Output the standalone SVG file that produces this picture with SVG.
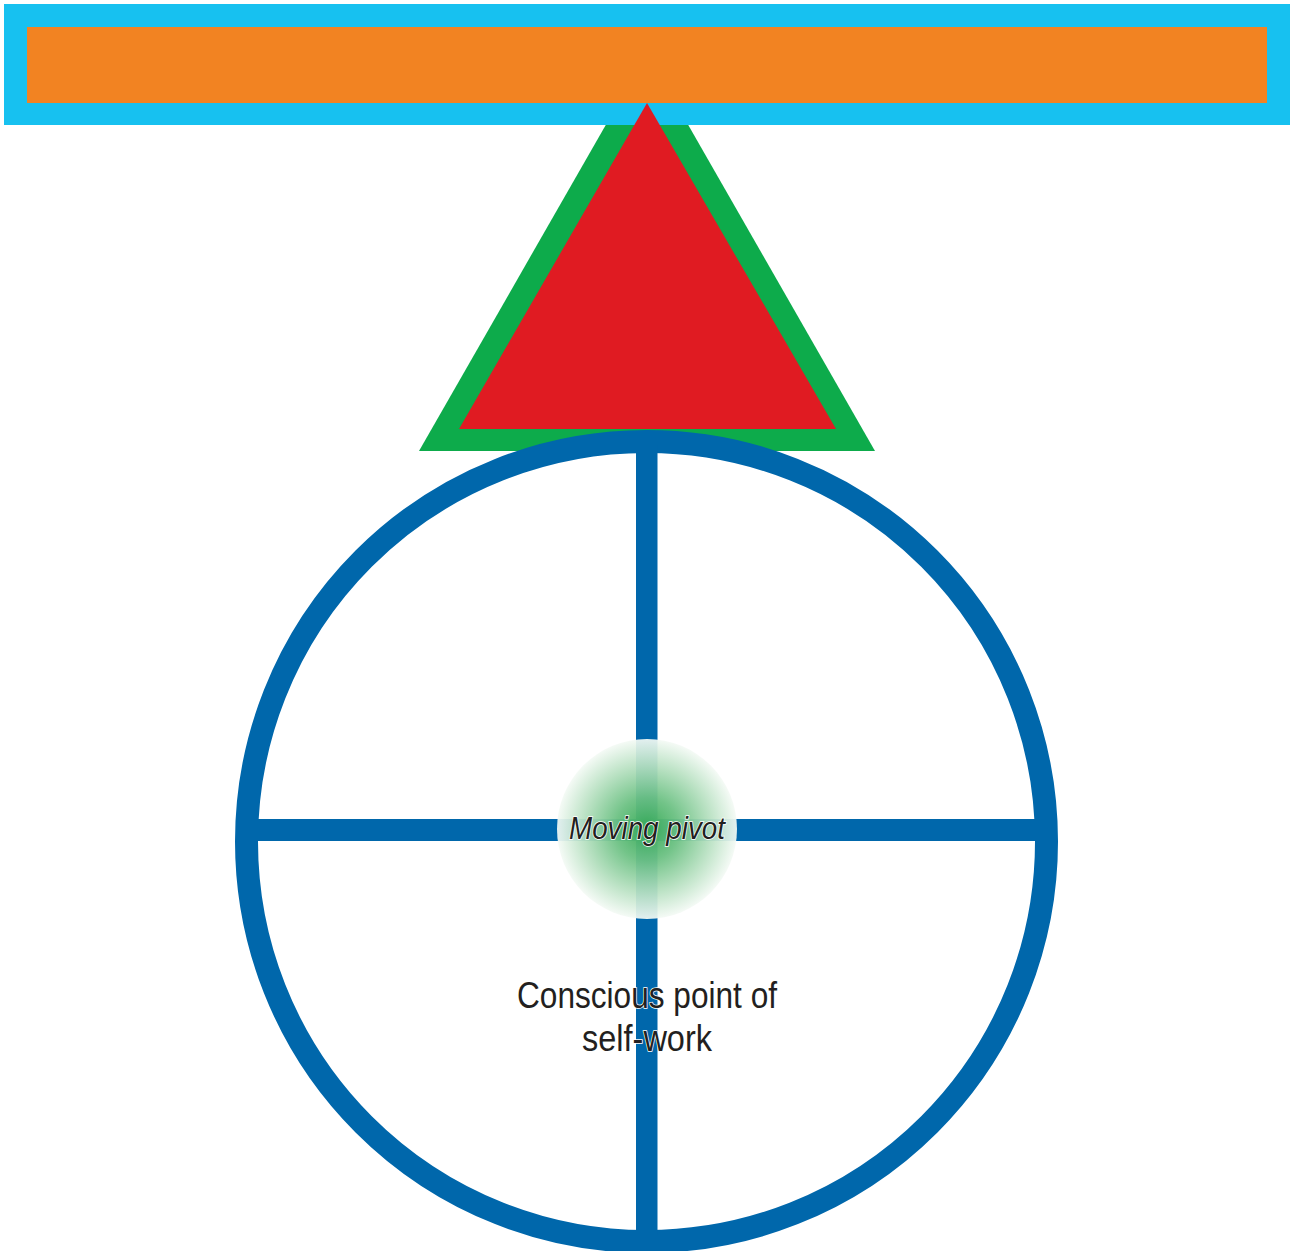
<svg xmlns="http://www.w3.org/2000/svg" width="1294" height="1251" viewBox="0 0 1294 1251">
<style>
.blue{fill:none;stroke:#0067ab;stroke-width:23}
.bar{fill:#0067ab}
.lbl{font-family:"Liberation Sans",Arial,sans-serif;fill:#231f20;text-anchor:middle;stroke:#ffffff;stroke-width:1.5;paint-order:stroke}
</style>
<defs>
<radialGradient id="glow" cx="0.5" cy="0.5" r="0.5">
<stop offset="0" stop-color="#35aa55" stop-opacity="0.97"/>
<stop offset="0.35" stop-color="#6cc183" stop-opacity="0.95"/>
<stop offset="0.7" stop-color="#b6e0c0" stop-opacity="0.94"/>
<stop offset="1" stop-color="#f4faf5" stop-opacity="0.93"/>
</radialGradient>
</defs>
<rect width="1294" height="1251" fill="#ffffff"/>
<g id="fulcrum-outer">
<polygon points="647,53 419,451 875,451" fill="#0dab4b"/>
</g>
<g id="beam">
<rect x="4" y="4" width="1286" height="121" fill="#17c1f0"/>
<rect x="27" y="27" width="1240" height="76" fill="#f28322"/>
</g>
<g id="fulcrum">
<polygon points="647,103 459,429 836,429" fill="#e01b22"/>
</g>
<g id="wheel">
<circle cx="646.5" cy="841.5" r="400" class="blue"/>
</g>
<g id="connectors">
<rect x="636" y="445" width="21.5" height="790" class="bar"/>
<rect x="252" y="819" width="788" height="22" class="bar"/>
</g>
<g id="pivot">
<circle cx="647" cy="829" r="90" fill="url(#glow)"/>
<text x="647" y="839" class="lbl" font-size="31" font-style="italic" stroke-width="0" textLength="156" lengthAdjust="spacingAndGlyphs">Moving pivot</text>
</g>
<g id="self-work">
<text class="lbl" font-size="36"><tspan x="647" y="1008" textLength="260" lengthAdjust="spacingAndGlyphs">Conscious point of</tspan><tspan x="647" y="1051" textLength="130" lengthAdjust="spacingAndGlyphs">self-work</tspan></text>
</g>
</svg>
